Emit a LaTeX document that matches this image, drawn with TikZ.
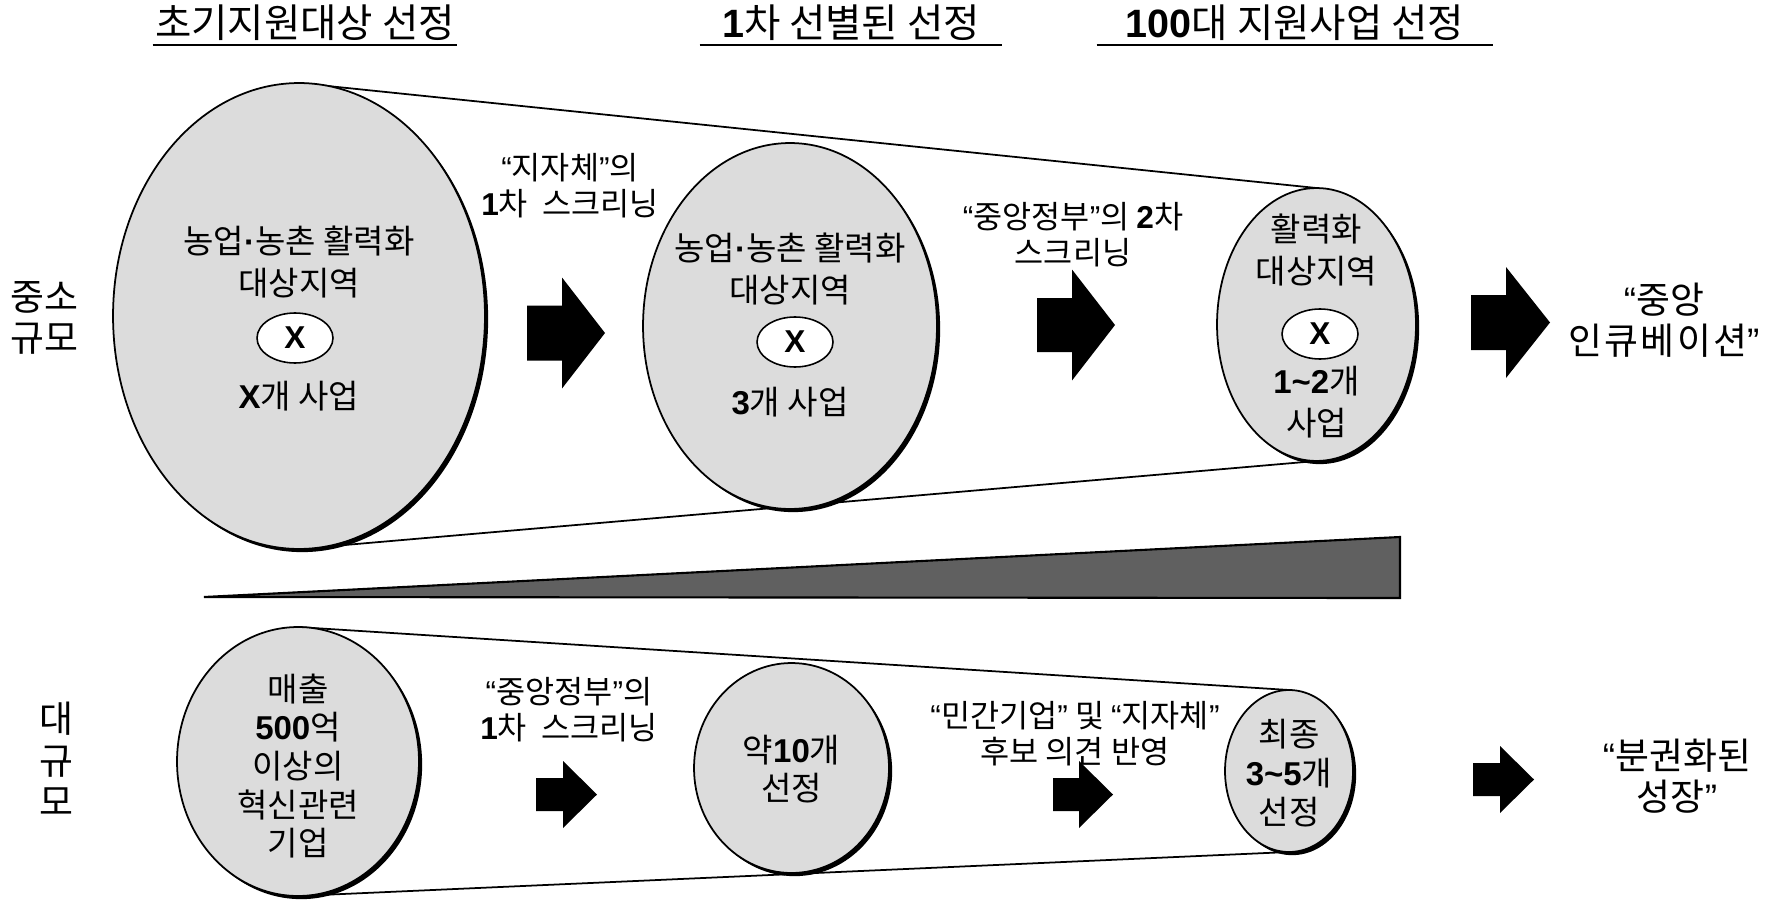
\documentclass[tikz,border=0pt]{standalone}
\usepackage{fontspec}
\setmainfont{Noto Sans CJK KR}
\newfontfamily\arialf{Liberation Sans}
\usetikzlibrary{calc, shapes.geometric, shadows, backgrounds}
\definecolor{stagefill}{RGB}{220,220,220}
\definecolor{wedgefill}{RGB}{96,96,96}
\newcommand{\bnum}[1]{{\arialf\bfseries #1}}
\newcommand{\oq}{{\arialf “}}
\newcommand{\cq}{{\arialf ”}}

\begin{document}
\begin{tikzpicture}[x=0.02cm, y=-0.02cm,
	stage/.style={ellipse, draw, line width=1pt, fill=stagefill, inner sep=0pt, outer sep=0pt,
		drop shadow={shadow xshift=1.8pt, shadow yshift=-1.8pt, fill=black, opacity=1}},
	xoval/.style={ellipse, draw, line width=0.9pt, fill=white, minimum width=1.52cm, minimum height=1cm,
		inner sep=0pt, font=\fontsize{18}{18}\selectfont\arialf\bfseries},
	txt/.style={align=center, inner sep=0pt, font=\fontsize{18.8}{23.5}\selectfont},
	btxt/.style={txt, font=\fontsize{18.8}{22}\selectfont},
	note/.style={align=center, inner sep=0pt, font=\fontsize{18}{20.5}\selectfont},
	side/.style={align=center, inner sep=0pt, font=\fontsize{21}{23.5}\selectfont},
	ttl/.style={anchor=base, inner sep=0pt, font=\fontsize{22.5}{26}\selectfont}]
\useasboundingbox (0,0) rectangle (1773,902);

\foreach \n/\x/\y/\w/\h in {sA/299/316/7.44/9.32, sB/790/326/5.88/7.32, sC/1316.5/324.5/3.98/5.46,
		bA/298/761.5/4.84/5.38, bB/791.5/768/3.9/4.2, bC/1289/771/2.56/3.24}
	\node[stage, minimum width=\w cm, minimum height=\h cm] (\n) at (\x,\y) {};
\begin{scope}[on background layer]
\foreach \a/\b in {sA/sC, bA/bC}
	\draw[line width=1pt] (\a.north) -- (\b.north) (\a.south) -- (\b.south);
\end{scope}

\foreach \n/\x/\w/\t in {ttlA/305/6.08/초기지원대상 선정, ttlB/851/6.04/\bnum{1}차 선별된 선정,
		ttlC/1295/7.92/\bnum{100}대 지원사업 선정} {
	\node[ttl, minimum width=\w cm] (\n) at (\x,38) {\t};
	\draw[line width=1.5pt] ([yshift=-0.14cm]\n.base west) -- ([yshift=-0.14cm]\n.base east);
}

\node[txt] (sAt) at ($(sA)+(0,-54)$) {농업{\arialf\bfseries ·}농촌 활력화\\대상지역};
\node[xoval] (sAx) at ($(sA)+(-4,22)$) {X};
\node[txt] (sAb) at ($(sA)+(0,80)$) {\bnum{X}개 사업};
\node[txt] (sBt) at ($(sB)+(0,-57)$) {농업{\arialf\bfseries ·}농촌 활력화\\대상지역};
\node[xoval] (sBx) at ($(sB)+(5,16)$) {X};
\node[txt] (sBb) at ($(sB)+(0,76)$) {\bnum{3}개 사업};
\node[txt] (sCt) at ($(sC)+(0,-74.5)$) {활력화\\대상지역};
\node[xoval] (sCx) at ($(sC)+(3.5,9.5)$) {X};
\node[txt] (sCb) at ($(sC)+(0,77.5)$) {\bnum{1\textasciitilde 2}개\\사업};

\node[btxt] (bAt) at ($(bA)+(0,4.5)$) {매출\\\bnum{500}억\\이상의\\혁신관련\\기업};
\node[btxt] (bBt) at ($(bB)+(0,1)$) {약\bnum{10}개\\선정};
\node[btxt] (bCt) at ($(bC)+(0,2)$) {최종\\\bnum{3\textasciitilde 5}개\\선정};

\node[note] (nA) at (570,186) {\oq 지자체\cq 의\\\bnum{1}차\ \ 스크리닝};
\node[note] (nB) at (1073,235) {\oq 중앙정부\cq 의 \bnum{2}차\\스크리닝};
\node[note] (nC) at (569,710) {\oq 중앙정부\cq 의\\\bnum{1}차\ \ 스크리닝};
\node[note] (nD) at (1075,734) {\oq 민간기업\cq\ 및 \oq 지자체\cq\\후보 의견 반영};

\node[side] (lsm) at (44,318) {중소\\규모};
\node[side] (llg) at (56,759) {대\\규\\모};
\node[side] (rsm) at (1664,320) {\oq 중앙\\\addfontfeature{LetterSpace=6}인큐베이션\cq};
\node[side] (rlg) at (1677,776) {\oq 분권화된\\성장\cq};

\filldraw[fill=wedgefill, line width=1.2pt] (204,597) -- (1400,537) -- (1400,598) -- cycle;

\foreach \xs/\yc/\L/\H/\B/\A in {527/333/78/43/27.5/55.5, 1037/325/78/43/27/55.5, 1471/322.5/79/44/27.5/55.5,
		536/794.5/61/34/16.5/33.5, 1053/794.5/60/34/16.5/33.5, 1473/779.5/61/34/16.5/33.5}
	\fill ({\xs},{\yc-\B}) -- ({\xs+\L-\H},{\yc-\B}) -- ({\xs+\L-\H},{\yc-\A}) -- ({\xs+\L},{\yc})
		-- ({\xs+\L-\H},{\yc+\A}) -- ({\xs+\L-\H},{\yc+\B}) -- ({\xs},{\yc+\B}) -- cycle;
\end{tikzpicture}
\end{document}
